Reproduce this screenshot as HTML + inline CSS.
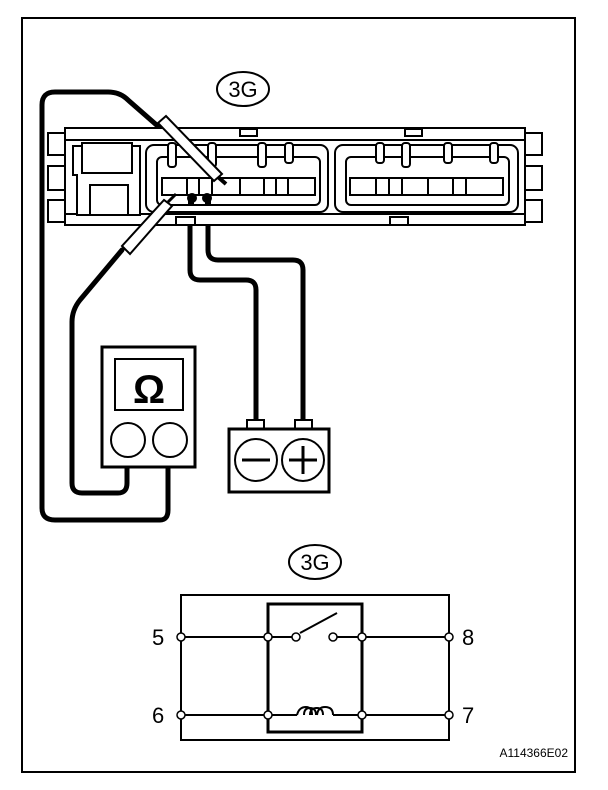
<!DOCTYPE html>
<html><head><meta charset="utf-8"><style>
html,body{margin:0;padding:0;background:#fff}
svg{display:block}
text{font-family:"Liberation Sans",sans-serif}
</style></head><body>
<svg width="608" height="790" viewBox="0 0 608 790" xmlns="http://www.w3.org/2000/svg">
<rect x="0" y="0" width="608" height="790" fill="#fff"/>
<rect x="22" y="18" width="553" height="754" fill="none" stroke="#000" stroke-width="2"/>

<!-- top 3G -->
<ellipse cx="243" cy="89" rx="26" ry="17" fill="#fff" stroke="#000" stroke-width="2"/>
<text x="243" y="97" font-size="22" text-anchor="middle">3G</text>

<!-- wires (behind) -->
<g fill="none" stroke="#000" stroke-width="5" stroke-linejoin="round" stroke-linecap="round">
<path d="M160,128 L128,100 Q120,92 108,92 L55,92 Q42,92 42,105 L42,508 Q42,520 55,520 L160,520 Q168,520 168,510 L168,467"/>
<path d="M122,250 L80,300 Q72,310 72,322 L72,483 Q72,493 82,493 L118,493 Q127,493 127,483 L127,467"/>
<path d="M190,200 L190,270 Q190,280 200,280 L246,280 Q256,280 256,290 L256,420"/>
<path d="M208,200 L208,250 Q208,260 218,260 L293,260 Q303,260 303,270 L303,420"/>
</g>

<!-- connector body -->
<g fill="#fff" stroke="#000" stroke-width="2">
<rect x="48" y="133" width="17" height="22"/>
<rect x="48" y="166" width="17" height="24"/>
<rect x="48" y="200" width="17" height="22"/>
<rect x="525" y="133" width="17" height="22"/>
<rect x="525" y="166" width="17" height="24"/>
<rect x="525" y="200" width="17" height="22"/>
<rect x="65" y="128" width="460" height="97"/>
<line x1="65" y1="140" x2="525" y2="140"/>
<line x1="65" y1="214" x2="525" y2="214"/>
<rect x="240" y="129" width="17" height="7"/>
<rect x="405" y="129" width="17" height="7"/>
<rect x="176" y="217" width="19" height="8"/>
<rect x="390" y="217" width="18" height="8"/>
<path d="M73,146 L140,146 L140,215 L77,215 L77,175 L73,175 Z"/>
<rect x="82" y="143" width="50" height="30"/>
<rect x="90" y="185" width="38" height="30"/>
<rect x="146" y="145" width="182" height="67" rx="8"/>
<rect x="157" y="157" width="163" height="48" rx="5"/>
<rect x="335" y="145" width="183" height="67" rx="8"/>
<rect x="346" y="157" width="163" height="48" rx="5"/>
<rect x="162" y="178" width="153" height="17"/>
<rect x="350" y="178" width="153" height="17"/>
</g>
<g stroke="#000" stroke-width="2">
<line x1="187" y1="178" x2="187" y2="195"/><line x1="199" y1="178" x2="199" y2="195"/><line x1="212" y1="178" x2="212" y2="195"/>
<line x1="240" y1="178" x2="240" y2="195"/><line x1="264" y1="178" x2="264" y2="195"/><line x1="276" y1="178" x2="276" y2="195"/><line x1="288" y1="178" x2="288" y2="195"/>
<line x1="376" y1="178" x2="376" y2="195"/><line x1="389" y1="178" x2="389" y2="195"/><line x1="402" y1="178" x2="402" y2="195"/>
<line x1="428" y1="178" x2="428" y2="195"/><line x1="453" y1="178" x2="453" y2="195"/><line x1="466" y1="178" x2="466" y2="195"/>
</g>
<g fill="#fff" stroke="#000" stroke-width="2">
<rect x="168" y="143" width="8" height="24" rx="3"/>
<rect x="208" y="143" width="8" height="24" rx="3"/>
<rect x="258" y="143" width="8" height="24" rx="3"/>
<rect x="285" y="143" width="8" height="20" rx="3"/>
<rect x="376" y="143" width="8" height="20" rx="3"/>
<rect x="402" y="143" width="8" height="24" rx="3"/>
<rect x="444" y="143" width="8" height="20" rx="3"/>
<rect x="490" y="143" width="8" height="20" rx="3"/>
</g>
<!-- plug pins -->
<circle cx="192" cy="198" r="5" fill="#000"/>
<circle cx="207" cy="198" r="5" fill="#000"/>
<rect x="188" y="198" width="6" height="8" fill="#000"/>
<rect x="205" y="198" width="6" height="8" fill="#000"/>

<!-- probes -->
<g stroke="#000" stroke-width="2" fill="#fff">
<path d="M158,123 L166,116 L222,174 L214,181 Z"/>
<line x1="218" y1="177" x2="226" y2="184" stroke-width="4"/>
<path d="M122,246 L130,254 L172,206 L164,200 Z"/>
<line x1="168" y1="202" x2="176" y2="194" stroke-width="3"/>
</g>

<!-- meter -->
<rect x="102" y="347" width="93" height="120" fill="#fff" stroke="#000" stroke-width="3"/>
<rect x="115" y="359" width="68" height="51" fill="#fff" stroke="#000" stroke-width="2"/>
<text x="149" y="403" font-size="40" font-weight="bold" text-anchor="middle">Ω</text>
<circle cx="128" cy="440" r="17" fill="#fff" stroke="#000" stroke-width="2"/>
<circle cx="170" cy="440" r="17" fill="#fff" stroke="#000" stroke-width="2"/>

<!-- battery -->
<rect x="247" y="420" width="17" height="9" fill="#fff" stroke="#000" stroke-width="2"/>
<rect x="295" y="420" width="17" height="9" fill="#fff" stroke="#000" stroke-width="2"/>
<rect x="229" y="429" width="100" height="63" fill="#fff" stroke="#000" stroke-width="3"/>
<circle cx="256" cy="460" r="21" fill="#fff" stroke="#000" stroke-width="2"/>
<circle cx="303" cy="460" r="21" fill="#fff" stroke="#000" stroke-width="2"/>
<g stroke="#000" stroke-width="3">
<line x1="242" y1="460" x2="270" y2="460"/>
<line x1="289" y1="460" x2="317" y2="460"/><line x1="303" y1="446" x2="303" y2="474"/>
</g>

<!-- schematic -->
<ellipse cx="315" cy="562" rx="26" ry="17" fill="#fff" stroke="#000" stroke-width="2"/>
<text x="315" y="570" font-size="22" text-anchor="middle">3G</text>
<g fill="none" stroke="#000" stroke-width="2">
<rect x="181" y="595" width="268" height="145"/>
<rect x="268" y="604" width="94" height="128" stroke-width="3"/>
<line x1="181" y1="637" x2="292" y2="637"/>
<line x1="337" y1="637" x2="449" y2="637"/>
<line x1="300" y1="633" x2="337" y2="613"/>
<line x1="181" y1="715" x2="297" y2="715"/>
<line x1="333" y1="715" x2="449" y2="715"/>
<path d="M297,715 Q299,707 306,707 Q312,707 312,715 M304,715 Q304,708 310,708 Q316,708 316,715 M310,715 Q310,708 317,708 Q323,708 323,715 M317,715 Q318,707 325,707 Q333,707 333,715"/>
</g>
<g fill="#fff" stroke="#000" stroke-width="1.5">
<circle cx="181" cy="637" r="4"/><circle cx="268" cy="637" r="4"/><circle cx="362" cy="637" r="4"/><circle cx="449" cy="637" r="4"/>
<circle cx="296" cy="637" r="4"/><circle cx="333" cy="637" r="4"/>
<circle cx="181" cy="715" r="4"/><circle cx="268" cy="715" r="4"/><circle cx="362" cy="715" r="4"/><circle cx="449" cy="715" r="4"/>
</g>
<g font-size="22">
<text x="152" y="645">5</text>
<text x="462" y="645">8</text>
<text x="152" y="723">6</text>
<text x="462" y="723">7</text>
</g>
<text x="568" y="757" font-size="12" text-anchor="end">A114366E02</text>
</svg>
</body></html>
